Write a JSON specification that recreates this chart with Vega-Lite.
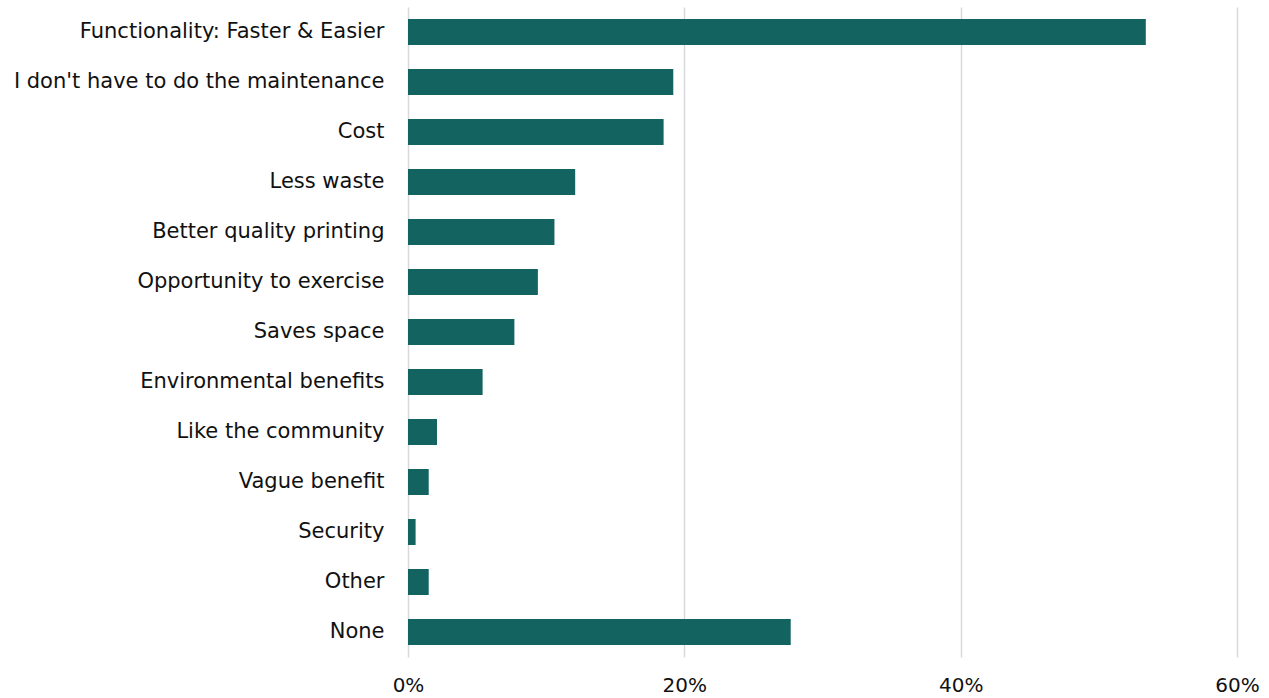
{
  "$schema": "https://vega.github.io/schema/vega-lite/v6.json",
  "width": 829,
  "height": 650,
  "autosize": "none",
  "padding": {"left": 408, "top": 7, "right": 32, "bottom": 41},
  "background": "white",
  "config": {"view": {"stroke": null}, "font": "DejaVu Sans"},
  "data": {"values": [
    {"reason": "Functionality: Faster & Easier", "share": 0.534},
    {"reason": "I don't have to do the maintenance", "share": 0.192},
    {"reason": "Cost", "share": 0.185},
    {"reason": "Less waste", "share": 0.121},
    {"reason": "Better quality printing", "share": 0.106},
    {"reason": "Opportunity to exercise", "share": 0.094},
    {"reason": "Saves space", "share": 0.077},
    {"reason": "Environmental benefits", "share": 0.054},
    {"reason": "Like the community", "share": 0.021},
    {"reason": "Vague benefit", "share": 0.015},
    {"reason": "Security", "share": 0.0055},
    {"reason": "Other", "share": 0.015},
    {"reason": "None", "share": 0.277}
  ]},
  "mark": {"type": "bar", "color": "#136361"},
  "encoding": {
    "y": {
      "field": "reason", "type": "nominal", "sort": null, "title": null,
      "scale": {"paddingInner": 0.48, "paddingOuter": 0.24},
      "axis": {"domain": false, "ticks": false, "labelPadding": 24, "labelFontSize": 21, "labelColor": "#111111", "labelLimit": 500, "grid": false}
    },
    "x": {
      "field": "share", "type": "quantitative", "title": null,
      "scale": {"domain": [0, 0.6], "nice": false},
      "axis": {"format": ".0%", "values": [0, 0.2, 0.4, 0.6], "domain": false, "ticks": false, "labelPadding": 18, "labelFontSize": 20, "labelColor": "#111111", "grid": true, "gridColor": "#d9d9d9", "gridWidth": 1.5, "labelFlush": false}
    }
  }
}
